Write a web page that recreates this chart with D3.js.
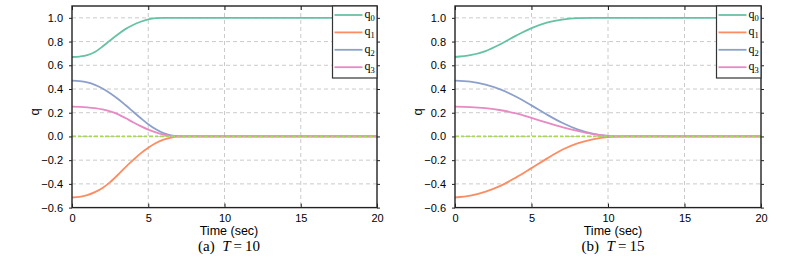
<!DOCTYPE html>
<html>
<head>
<meta charset="utf-8">
<script src="https://cdn.jsdelivr.net/npm/d3@7"></script>
<style>
  body { margin: 0; background: #fff; }
  svg { display: block; }
</style>
</head>
<body>
<div id="chart-area"></div>
<script>
// values (T = 10 and T = 15)
var timeA = [0, 0.5, 1, 1.5, 2, 2.5, 3, 3.5, 4, 4.5, 5, 5.5, 6, 6.5, 7, 7.5, 20]
var q0A = [0.67, 0.674, 0.685, 0.712, 0.758, 0.81, 0.86, 0.905, 0.94, 0.967, 0.987, 0.997, 1.0, 1.0, 1.0, 1.0, 1.0]
var q1A = [-0.515, -0.51, -0.495, -0.47, -0.435, -0.385, -0.325, -0.26, -0.2, -0.143, -0.095, -0.055, -0.026, -0.009, -0.002, 0, 0]
var q2A = [0.47, 0.466, 0.455, 0.435, 0.405, 0.365, 0.318, 0.265, 0.21, 0.155, 0.103, 0.06, 0.028, 0.009, 0.002, 0, 0]
var q3A = [0.252, 0.25, 0.246, 0.239, 0.228, 0.212, 0.188, 0.155, 0.12, 0.087, 0.058, 0.034, 0.016, 0.005, 0.001, 0, 0]

var timeB = [0, 1, 2, 3, 4, 5, 6, 7, 8, 9, 10, 11, 20]
var q0B = [0.67, 0.685, 0.72, 0.78, 0.85, 0.913, 0.96, 0.985, 0.997, 1.0, 1.0, 1.0, 1.0]
var q1B = [-0.515, -0.5, -0.465, -0.415, -0.345, -0.267, -0.187, -0.112, -0.058, -0.024, -0.005, 0, 0]
var q2B = [0.47, 0.462, 0.437, 0.395, 0.335, 0.262, 0.185, 0.115, 0.06, 0.024, 0.005, 0, 0]
var q3B = [0.252, 0.248, 0.238, 0.221, 0.194, 0.156, 0.116, 0.078, 0.046, 0.02, 0.005, 0, 0]

// dashed reference (zero) line
var refTime = [0, 20]
var refValue = [0, 0]

var xTicks = [0, 5, 10, 15, 20]
var yTicks = [-0.6, -0.4, -0.2, 0.0, 0.2, 0.4, 0.6, 0.8, 1.0]
var seriesNames = ["0", "1", "2", "3"]
var colors = ["#66c2a5", "#fc8d62", "#8da0cb", "#e78ac3"]

var svg = d3.select("#chart-area").append("svg")
    .attr("width", 794)
    .attr("height", 276)

function drawPanel(left, right, time, series, label, T, labelX) {
    var top = 6, bottom = 207.6
    var x = d3.scaleLinear().domain([0, 20]).range([left, right])
    var y = d3.scaleLinear().domain([-0.6, 1.1]).range([bottom, top])
    var g = svg.append("g")

    // grid
    g.selectAll(".gx").data(xTicks.slice(1, -1)).enter().append("line")
        .attr("x1", d => x(d)).attr("x2", d => x(d))
        .attr("y1", top).attr("y2", bottom)
        .attr("stroke", "#c4c4c4").attr("stroke-width", 0.9)
        .attr("stroke-dasharray", "4,3")
    g.selectAll(".gy").data(yTicks.filter(d => d > -0.6)).enter().append("line")
        .attr("x1", left).attr("x2", right)
        .attr("y1", d => y(d)).attr("y2", d => y(d))
        .attr("stroke", "#c4c4c4").attr("stroke-width", 0.9)
        .attr("stroke-dasharray", "4,3")

    var line = d3.line()
        .x(d => x(d[0]))
        .y(d => y(d[1]))
        .curve(d3.curveMonotoneX)

    series.forEach(function(vals, i) {
        g.append("path")
            .datum(time.map((t, k) => [t, vals[k]]))
            .attr("d", line)
            .attr("fill", "none")
            .attr("stroke", colors[i])
            .attr("stroke-width", 1.8)
    })

    g.append("path")
        .datum(refTime.map((t, k) => [t, refValue[k]]))
        .attr("d", d3.line().x(d => x(d[0])).y(d => y(d[1])))
        .attr("fill", "none")
        .attr("stroke", "#a6d854")
        .attr("stroke-width", 1.8)
        .attr("stroke-dasharray", "4,2,3,2")

    // axes: x ticks inward, y ticks outward
    var fontSans = "'Liberation Sans', Arial, sans-serif"
    g.append("g").attr("transform", "translate(0," + bottom + ")")
        .call(d3.axisBottom(x).tickValues(xTicks).tickSizeInner(-4).tickSizeOuter(0).tickPadding(7))
        .call(a => a.select(".domain").remove())
    g.append("g").attr("transform", "translate(0," + top + ")")
        .call(d3.axisTop(x).tickValues(xTicks).tickSizeInner(-4).tickSizeOuter(0).tickFormat(""))
        .call(a => a.select(".domain").remove())
    g.append("g").attr("transform", "translate(" + left + ",0)")
        .call(d3.axisLeft(y).tickValues(yTicks).tickSizeInner(3).tickSizeOuter(0).tickPadding(6).tickFormat(d3.format(".1f")))
        .call(a => a.select(".domain").remove())
    g.append("g").attr("transform", "translate(" + right + ",0)")
        .call(d3.axisRight(y).tickValues(yTicks).tickSizeInner(3).tickSizeOuter(0).tickFormat(""))
        .call(a => a.select(".domain").remove())
    g.selectAll(".tick text").attr("font-family", fontSans).attr("font-size", 11).attr("fill", "#000")
    g.selectAll(".tick line").attr("stroke", "#222").attr("stroke-width", 1)

    g.append("rect")
        .attr("x", left).attr("y", top)
        .attr("width", right - left).attr("height", bottom - top)
        .attr("fill", "none").attr("stroke", "#222").attr("stroke-width", 1.4)

    // legend
    var lg = g.append("g").attr("transform", "translate(" + (right - 44.5) + "," + top + ")")
    lg.append("rect")
        .attr("width", 44.5).attr("height", 72)
        .attr("fill", "#fff").attr("stroke", "#333").attr("stroke-width", 1.2)
    seriesNames.forEach(function(n, i) {
        var yy = 9 + i * 17.4
        lg.append("line")
            .attr("x1", 2).attr("x2", 30)
            .attr("y1", yy).attr("y2", yy)
            .attr("stroke", colors[i]).attr("stroke-width", 1.8)
        var t = lg.append("text")
            .attr("x", 32).attr("y", yy + 3)
            .attr("font-family", "'Liberation Serif', 'Times New Roman', serif")
            .attr("font-size", 12)
        t.append("tspan").text("q")
        t.append("tspan").attr("font-size", 8.5).attr("dy", 3).text(n)
    })

    // labels
    g.append("text")
        .attr("x", labelX).attr("y", 234.5)
        .attr("text-anchor", "middle")
        .attr("font-family", fontSans).attr("font-size", 12.5)
        .text("Time (sec)")
    var cap = g.append("text")
        .attr("x", labelX).attr("y", 250.5)
        .attr("text-anchor", "middle")
        .attr("font-family", "'Liberation Serif', 'Times New Roman', serif")
        .attr("font-size", 15)
    cap.append("tspan").text("(" + label + ")\u00a0\u00a0")
    cap.append("tspan").attr("font-style", "italic").text("T")
    cap.append("tspan").text("\u2009=\u2009" + T)

    g.append("text")
        .attr("transform", "translate(" + (left - 33) + ",112) rotate(-90)")
        .attr("text-anchor", "middle")
        .attr("font-family", fontSans).attr("font-size", 13)
        .text("q")
}

drawPanel(72, 377, timeA, [q0A, q1A, q2A, q3A], "a", 10, 229)
drawPanel(455, 761, timeB, [q0B, q1B, q2B, q3B], "b", 15, 613)
</script>
</body>
</html>
